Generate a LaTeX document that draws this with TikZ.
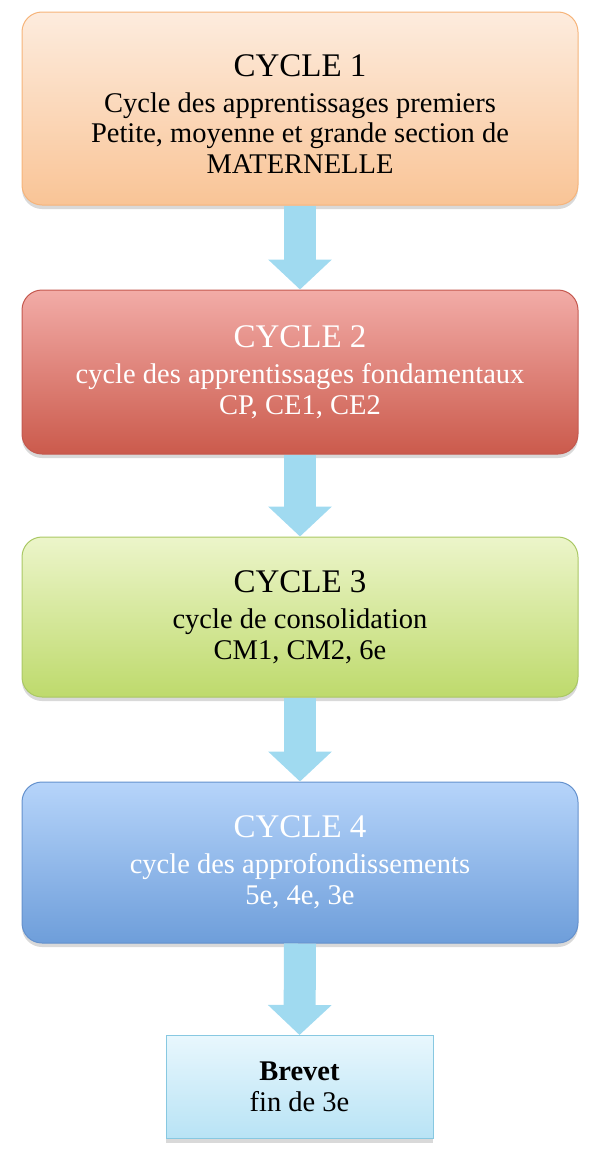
\documentclass[tikz,border=0pt]{standalone}
\usepackage{fontspec}
\setmainfont{Liberation Serif}
\usetikzlibrary{arrows.meta,shadows}
\definecolor{peachtop}{RGB}{253,236,222}
\definecolor{peachbot}{RGB}{249,196,150}
\definecolor{peachline}{RGB}{246,180,122}
\definecolor{redtop}{RGB}{242,172,167}
\definecolor{redbot}{RGB}{203,90,76}
\definecolor{redline}{RGB}{196,88,78}
\definecolor{greentop}{RGB}{236,245,202}
\definecolor{greenbot}{RGB}{190,218,108}
\definecolor{greenline}{RGB}{170,200,100}
\definecolor{bluetop}{RGB}{182,212,250}
\definecolor{bluebot}{RGB}{110,158,218}
\definecolor{blueline}{RGB}{100,145,205}
\definecolor{skytop}{RGB}{232,247,253}
\definecolor{skybot}{RGB}{184,227,245}
\definecolor{skyline}{RGB}{135,200,225}
\definecolor{arrowblue}{RGB}{160,218,240}
\newcommand{\titre}{\fontsize{33}{36}\selectfont}

\begin{document}
\begin{tikzpicture}[x=1pt,y=-1pt,
  cycle/.style={rounded corners=20pt, minimum width=556pt, align=center, inner sep=0pt,
    line width=1pt, font=\fontsize{28.5}{30.8}\selectfont,
    drop shadow={opacity=0.3,shadow xshift=0pt,shadow yshift=-4pt}},
  fleche/.style={line width=32pt, draw=arrowblue, -{Triangle[width=62pt,length=30pt]}}]
\useasboundingbox (0,0) rectangle (600,1159);
% les quatre cycles
\node[cycle, minimum height=193pt, top color=peachtop, bottom color=peachbot, draw=peachline] (c1) at (300,108.5)
  {{\titre\rule{0pt}{33pt}CYCLE 1}\\[5pt] Cycle des apprentissages premiers\\ Petite, moyenne et grande section de\\ MATERNELLE};
\node[cycle, minimum height=164pt, top color=redtop, bottom color=redbot, draw=redline, text=white] (c2) at (300,372)
  {{\titre CYCLE 2}\\[5pt] cycle des apprentissages fondamentaux\\ CP, CE1, CE2};
\node[cycle, minimum height=160pt, top color=greentop, bottom color=greenbot, draw=greenline] (c3) at (300,617)
  {{\titre CYCLE 3}\\[5pt] cycle de consolidation\\ CM1, CM2, 6e};
\node[cycle, minimum height=161pt, top color=bluetop, bottom color=bluebot, draw=blueline, text=white] (c4) at (300,862.5)
  {{\titre CYCLE 4}\\[5pt] cycle des approfondissements\\ 5e, 4e, 3e};
% brevet
\node[cycle, rounded corners=0pt, minimum width=267pt, minimum height=103pt, top color=skytop, bottom color=skybot, draw=skyline] (br) at (299.5,1087)
  {\textbf{Brevet}\\ fin de 3e};
% fleches
\draw[fleche] (c1.south) -- (c2.north);
\draw[fleche] (c2.south) -- (c3.north);
\draw[fleche] (c3.south) -- (c4.north);
\draw[fleche] (c4.south) -- (br.north);
\end{tikzpicture}
\end{document}
